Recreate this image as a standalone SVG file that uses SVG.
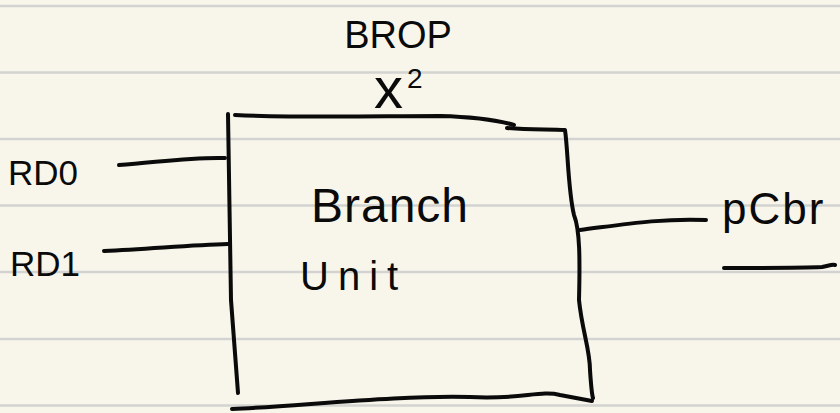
<svg xmlns="http://www.w3.org/2000/svg" width="840" height="413" viewBox="0 0 840 413">
<style>
.rule{stroke:#d3d3d1;stroke-width:2.5}
.ink{fill:none;stroke:#0a0a0a;stroke-width:4;stroke-linecap:round;stroke-linejoin:round}
.t{font-family:"Liberation Sans","DejaVu Sans",sans-serif;fill:#0a0a0a}
</style>
<rect width="840" height="413" fill="#f8f6eb"/>
<g id="paper-lines">
<line class="rule" x1="0" y1="6" x2="840" y2="6"/>
<line class="rule" x1="0" y1="72.5" x2="840" y2="72.5"/>
<line class="rule" x1="0" y1="139" x2="840" y2="139"/>
<line class="rule" x1="0" y1="205.5" x2="840" y2="205.5"/>
<line class="rule" x1="0" y1="272" x2="840" y2="272"/>
<line class="rule" x1="0" y1="339" x2="840" y2="339"/>
<line class="rule" x1="0" y1="405.5" x2="840" y2="405.5"/>
</g>
<g id="branch-unit">
<path class="ink" d="M228,114 L231,300 L238,393"/>
<path class="ink" d="M235,115 C300,118 380,116 440,116 C480,117 500,121 514,125"/>
<path class="ink" d="M507,128 C530,130 550,129 565,130 C568,150 568,190 574,215 C580,230 580,260 579,300 C582,330 590,350 590,370 C591,385 592,395 593,398"/>
<path class="ink" d="M232,409 C300,406 400,395 470,397 C520,400 540,390 560,395 L592,401"/>
<text class="t" x="390" y="222" font-size="48" text-anchor="middle" letter-spacing="1">Branch</text>
<text class="t" x="300" y="290" font-size="40" letter-spacing="9">Unit</text>
</g>
<g id="label-brop">
<text class="t" x="398" y="48" font-size="38" text-anchor="middle">BROP</text>
<text class="t" x="374" y="108" font-size="58">x<tspan font-size="28" dy="-20" dx="4">2</tspan></text>
</g>
<g id="label-rd0"><text class="t" x="8" y="185" font-size="35">RD0</text></g>
<g id="label-rd1"><text class="t" x="10" y="276" font-size="35">RD1</text></g>
<g id="label-pcbr">
<text class="t" x="722" y="224" font-size="44" letter-spacing="2">pCbr</text>
<path class="ink" d="M724,268 C760,268 800,268 822,267 C828,266 832,264 835,265"/>
</g>
<g id="connectors">
<path class="ink" d="M119,165 C160,162 190,157 225,158"/>
<path class="ink" d="M104,251 C150,249 190,245 228,244"/>
<path class="ink" d="M580,230 C620,225 660,218 706,220"/>
</g>
</svg>
